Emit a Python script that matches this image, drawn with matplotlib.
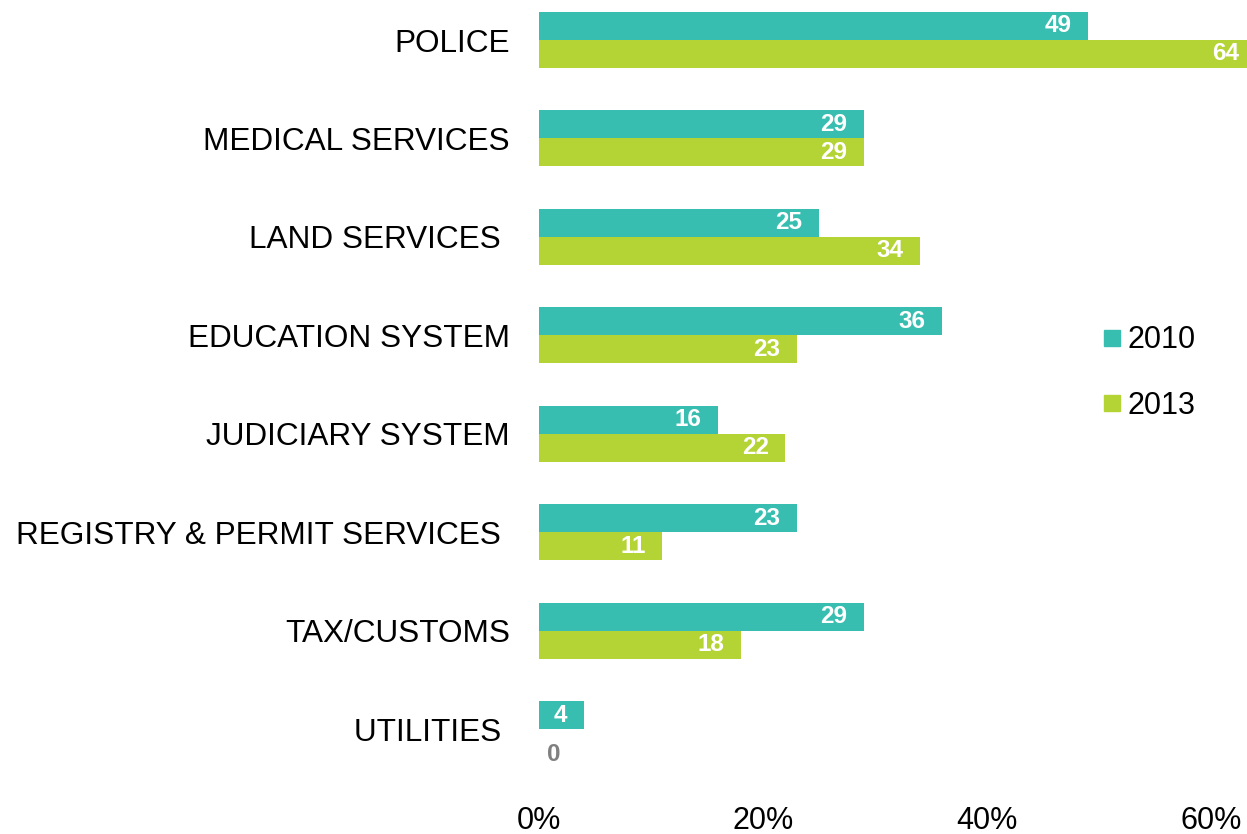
import matplotlib.pyplot as plt
from matplotlib.lines import Line2D
import numpy as np

# survey data: share of respondents reporting bribes, by institution
categories = ["POLICE", "MEDICAL SERVICES", "LAND SERVICES ", "EDUCATION SYSTEM",
              "JUDICIARY SYSTEM", "REGISTRY & PERMIT SERVICES ", "TAX/CUSTOMS", "UTILITIES "]
vals_2010 = [49, 29, 25, 36, 16, 23, 29, 4]
vals_2013 = [64, 29, 34, 23, 22, 11, 18, 0]
xticks = [0, 20, 40, 60]
xticklabels = ["0%", "20%", "40%", "60%"]

teal = "#38BEB0"
lime = "#B4D334"

plt.rcParams['font.family'] = ['Liberation Sans', 'DejaVu Sans']

W, H = 1247, 834
fig = plt.figure(figsize=(W / 100, H / 100), dpi=100)
# axes placed in pixel terms: x=0 at 539px, 60% at 1211px
left, right = 539, 1211
top, bottom = 0, 792
ax = fig.add_axes([left / W, 1 - bottom / H, (right - left) / W, (bottom - top) / H])

pitch = 98.43
y = np.arange(len(categories))
h = 28 / pitch

ax.barh(y - h / 2, vals_2010, height=h, color=teal, clip_on=False)
ax.barh(y + h / 2, vals_2013, height=h, color=lime, clip_on=False)

ax.set_xlim(0, 60)
ax.set_ylim((bottom - 40) / pitch, (top - 40) / pitch)

for i in range(len(categories)):
    for v, yy in ((vals_2010[i], y[i] - h / 2), (vals_2013[i], y[i] + h / 2)):
        if v > 0:
            ax.annotate(str(v), (v, yy), xytext=(-12, 0), textcoords="offset points",
                        ha="right", va="center", color="white", fontsize=17.5,
                        fontweight="bold", annotation_clip=False)
        else:
            ax.annotate(str(v), (v, yy), xytext=(6, -8), textcoords="offset points",
                        ha="left", va="center", color="#808080", fontsize=17.5,
                        fontweight="bold", annotation_clip=False)

ax.set_yticks(y)
ax.set_yticklabels(categories, fontsize=22.7)
ax.set_xticks(xticks)
ax.set_xticklabels(xticklabels, fontsize=22)
ax.tick_params(axis="y", length=0, pad=21)
ax.tick_params(axis="x", length=0, pad=10)
for s in ax.spines.values():
    s.set_visible(False)

handles = [Line2D([], [], marker="s", linestyle="none", markersize=11, color=teal),
           Line2D([], [], marker="s", linestyle="none", markersize=11, color=lime)]
fig.legend(handles, ["2010", "2013"], loc="center left",
           bbox_to_anchor=(1091 / W, 1 - 373 / H), frameon=False, fontsize=22,
           handlelength=0.55, handletextpad=0.25, labelspacing=1.15, borderaxespad=0)

fig.savefig("out.png", dpi=100)
